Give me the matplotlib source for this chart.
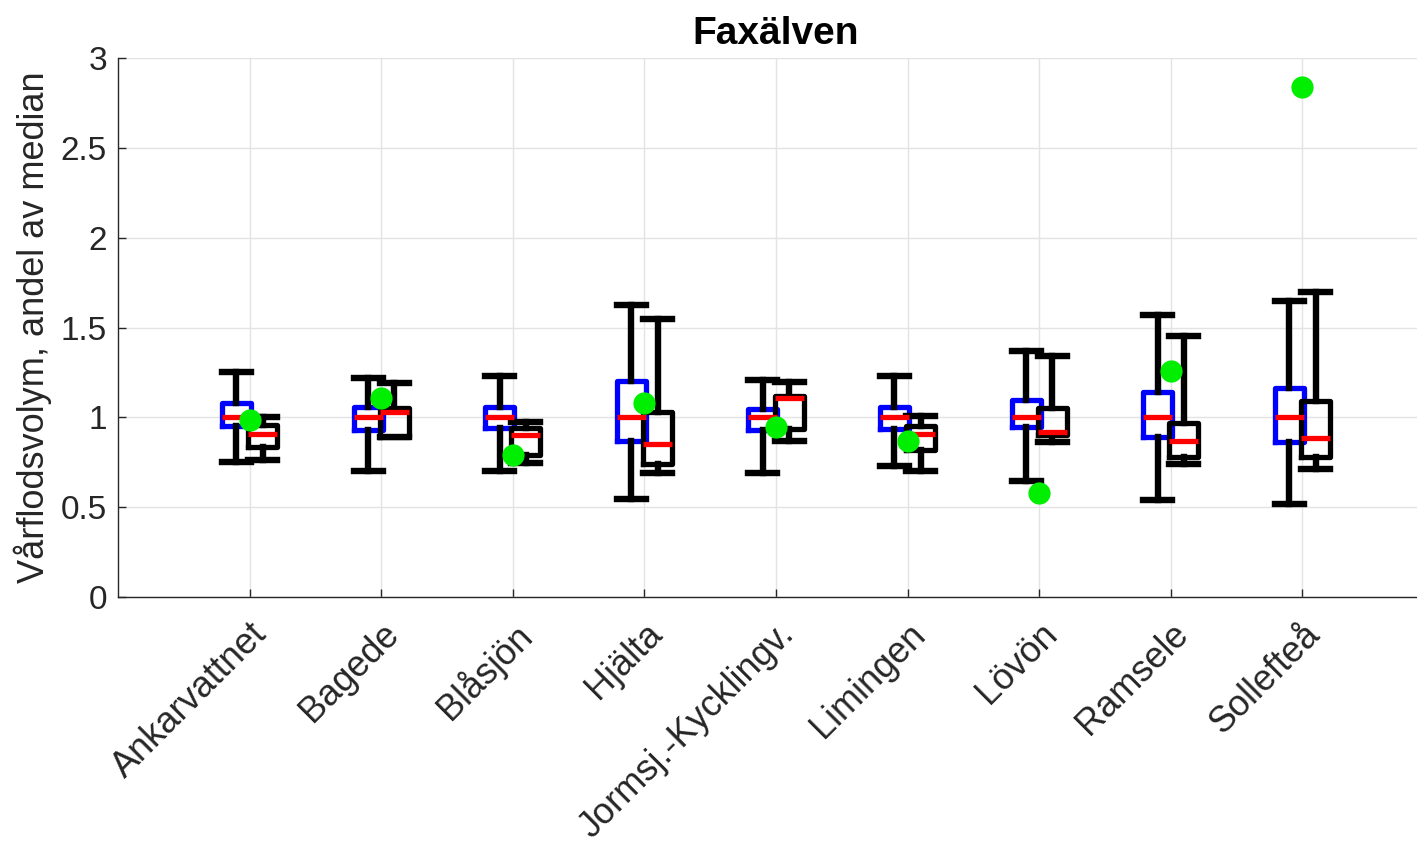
import numpy as np
import matplotlib.pyplot as plt

plt.rcParams['font.family'] = ['Liberation Sans', 'DejaVu Sans']

stations = ["Ankarvattnet", "Bagede", "Blåsjön", "Hjälta", "Jormsj.-Kycklingv.",
            "Limingen", "Lövön", "Ramsele", "Sollefteå"]

# blue boxes (reference period)
ref_lo = [0.75, 0.70, 0.70, 0.545, 0.69, 0.73, 0.645, 0.54, 0.52]
ref_q1 = [0.95, 0.93, 0.94, 0.87, 0.93, 0.935, 0.945, 0.89, 0.86]
ref_med = [1.0, 1.0, 1.0, 1.0, 1.0, 1.0, 1.0, 1.0, 1.0]
ref_q3 = [1.08, 1.06, 1.06, 1.20, 1.045, 1.06, 1.095, 1.14, 1.165]
ref_hi = [1.25, 1.22, 1.23, 1.625, 1.21, 1.23, 1.37, 1.57, 1.65]

# black boxes
sc_lo = [0.76, 0.89, 0.745, 0.69, 0.87, 0.70, 0.86, 0.74, 0.71]
sc_q1 = [0.835, 0.89, 0.79, 0.74, 0.935, 0.82, 0.90, 0.78, 0.78]
sc_med = [0.905, 1.03, 0.90, 0.85, 1.105, 0.91, 0.92, 0.87, 0.885]
sc_q3 = [0.957, 1.05, 0.94, 1.03, 1.12, 0.95, 1.05, 0.97, 1.09]
sc_hi = [1.0, 1.19, 0.975, 1.55, 1.195, 1.01, 1.34, 1.45, 1.70]

# green dots
obs = [0.985, 1.11, 0.79, 1.08, 0.945, 0.87, 0.58, 1.26, 2.84]


def make_stats(lo, q1, med, q3, hi):
    return [dict(whislo=a, q1=b, med=c, q3=d, whishi=e, fliers=[])
            for a, b, c, d, e in zip(lo, q1, med, q3, hi)]


fig = plt.figure(figsize=(14.17, 8.52), dpi=100)
ax = fig.add_axes([118 / 1417, 255 / 852, (1434 - 118) / 1417, (597 - 58) / 852])

x = np.arange(1, len(stations) + 1)
w = 0.22
lw = 3.8

ax.bxp(make_stats(ref_lo, ref_q1, ref_med, ref_q3, ref_hi), positions=x - 0.1,
       widths=w, capwidths=w, showfliers=False,
       boxprops=dict(color='#0000ff', linewidth=lw),
       medianprops=dict(color='#ff0000', linewidth=lw),
       whiskerprops=dict(color='black', linewidth=lw + 0.8),
       capprops=dict(color='black', linewidth=lw + 0.8),
       manage_ticks=False, zorder=3)
ax.bxp(make_stats(sc_lo, sc_q1, sc_med, sc_q3, sc_hi), positions=x + 0.1,
       widths=w, capwidths=w, showfliers=False,
       boxprops=dict(color='black', linewidth=lw),
       medianprops=dict(color='#ff0000', linewidth=lw),
       whiskerprops=dict(color='black', linewidth=lw + 0.8),
       capprops=dict(color='black', linewidth=lw + 0.8),
       manage_ticks=False, zorder=3)

ax.plot(x, obs, 'o', color='#00ee00', markersize=16, markeredgewidth=0, zorder=5)

ax.set_xlim(0, 10)
ax.set_ylim(0, 3)
ax.set_yticks([0, 0.5, 1, 1.5, 2, 2.5, 3])
ax.set_yticklabels(["0", "0.5", "1", "1.5", "2", "2.5", "3"])
ax.set_xticks(x)
ax.set_xticklabels(stations, rotation=45, ha='right', va='top', rotation_mode='anchor')
ax.tick_params(direction='in', length=6, width=1, color='#262626',
               labelcolor='#262626', pad=8)
ax.tick_params(axis='x', pad=14, labelsize=26)
ax.tick_params(axis='y', labelsize=24)
ax.grid(True, color='#e3e3e3', linewidth=1)
ax.set_axisbelow(True)
for s in ['top', 'right']:
    ax.spines[s].set_visible(False)
for s in ['left', 'bottom']:
    ax.spines[s].set_color('#262626')
    ax.spines[s].set_linewidth(1)

ax.set_ylabel("Vårflodsvolym, andel av median", fontsize=26, color='#262626')
ax.yaxis.set_label_coords(-0.05, 0.5)
fig.text(776 / 1417, 1 - 34 / 852, "Faxälven", fontsize=28, fontweight='bold',
         ha='center', va='center')

fig.savefig("out.png", dpi=100)
